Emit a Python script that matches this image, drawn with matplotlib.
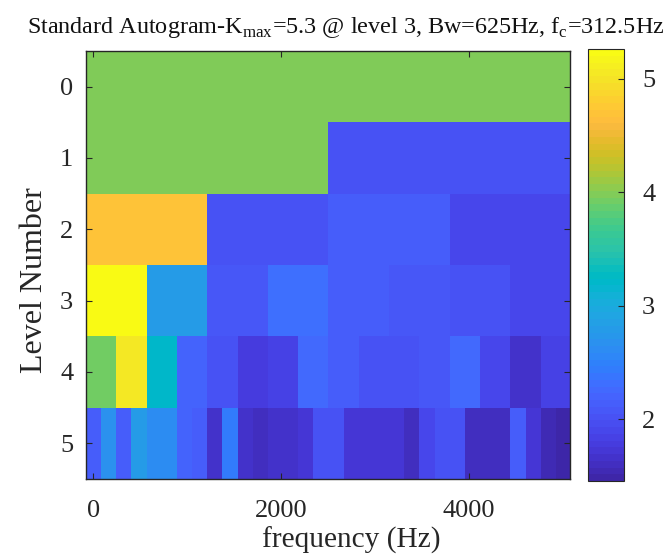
import numpy as np
import matplotlib.pyplot as plt
from matplotlib.colors import ListedColormap

# parula (64 entries)
parula = ListedColormap([
    [0.2422, 0.1504, 0.6603], [0.2504, 0.1650, 0.7076], [0.2578, 0.1818, 0.7511], [0.2647, 0.1978, 0.7952],
    [0.2706, 0.2147, 0.8364], [0.2751, 0.2342, 0.8710], [0.2783, 0.2559, 0.8991], [0.2803, 0.2782, 0.9221],
    [0.2813, 0.3006, 0.9414], [0.2810, 0.3228, 0.9579], [0.2795, 0.3447, 0.9717], [0.2760, 0.3667, 0.9829],
    [0.2699, 0.3892, 0.9906], [0.2602, 0.4123, 0.9952], [0.2440, 0.4358, 0.9988], [0.2206, 0.4603, 0.9973],
    [0.1963, 0.4847, 0.9892], [0.1834, 0.5074, 0.9798], [0.1786, 0.5289, 0.9682], [0.1764, 0.5499, 0.9520],
    [0.1687, 0.5703, 0.9359], [0.1540, 0.5902, 0.9218], [0.1460, 0.6091, 0.9079], [0.1380, 0.6276, 0.8973],
    [0.1248, 0.6459, 0.8883], [0.1113, 0.6635, 0.8763], [0.0952, 0.6798, 0.8598], [0.0689, 0.6948, 0.8394],
    [0.0297, 0.7082, 0.8163], [0.0036, 0.7203, 0.7917], [0.0067, 0.7312, 0.7660], [0.0433, 0.7411, 0.7394],
    [0.0964, 0.7500, 0.7120], [0.1408, 0.7584, 0.6842], [0.1717, 0.7670, 0.6554], [0.1938, 0.7758, 0.6251],
    [0.2161, 0.7843, 0.5923], [0.2470, 0.7918, 0.5567], [0.2906, 0.7973, 0.5188], [0.3406, 0.8008, 0.4789],
    [0.3909, 0.8029, 0.4354], [0.4456, 0.8024, 0.3909], [0.5044, 0.7993, 0.3480], [0.5616, 0.7942, 0.3045],
    [0.6174, 0.7876, 0.2612], [0.6720, 0.7793, 0.2227], [0.7242, 0.7698, 0.1910], [0.7738, 0.7598, 0.1646],
    [0.8203, 0.7498, 0.1535], [0.8634, 0.7406, 0.1596], [0.9035, 0.7330, 0.1774], [0.9393, 0.7288, 0.2100],
    [0.9728, 0.7298, 0.2394], [0.9956, 0.7434, 0.2371], [0.9970, 0.7659, 0.2199], [0.9952, 0.7893, 0.2028],
    [0.9892, 0.8136, 0.1885], [0.9786, 0.8386, 0.1766], [0.9676, 0.8639, 0.1643], [0.9610, 0.8890, 0.1537],
    [0.9597, 0.9135, 0.1423], [0.9628, 0.9373, 0.1265], [0.9691, 0.9606, 0.1064], [0.9769, 0.9839, 0.0805],
], name='parula')

# kurtosis per level (level k has 2**k bands)
level0 = [4.00]
level1 = [4.00, 2.03]
level2 = [4.70, 2.00, 2.16, 1.88]
level3 = [5.26, 2.80, 2.10, 2.30, 2.12, 2.06, 2.00, 1.88]
level4 = [3.95, 5.08, 3.20, 2.18, 2.00, 1.76, 1.85, 2.24,
          2.15, 2.00, 2.02, 2.05, 2.28, 1.90, 1.68, 1.86]
level5 = [2.12, 2.65, 2.12, 2.78, 2.60, 2.60, 2.22, 2.15,
          1.66, 2.42, 1.68, 1.62, 1.68, 1.68, 1.70, 2.00,
          2.00, 1.70, 1.70, 1.72, 1.72, 1.58, 1.90, 2.00,
          2.00, 1.62, 1.58, 1.58, 2.15, 1.70, 1.52, 1.455]
levels = [level0, level1, level2, level3, level4, level5]

fs = 10000
ncol = 32
freq = np.linspace(0, fs / 2, ncol)
lev = np.arange(len(levels))

# expand every level to 32 columns
K = np.array([np.repeat(l, ncol // len(l)) for l in levels])

plt.rcParams['font.family'] = 'Liberation Serif'
plt.rcParams['mathtext.fontset'] = 'custom'
plt.rcParams['mathtext.rm'] = 'Liberation Serif'

W, H = 670, 557
fig = plt.figure(figsize=(W / 100, H / 100), dpi=100)
ax = fig.add_axes([85.7 / W, 1 - 479 / H, (570 - 85.7) / W, (479 - 51) / H])
df = freq[1] - freq[0]
im = ax.imshow(K, cmap=parula, aspect='auto', interpolation='nearest',
               extent=[freq[0] - df / 2, freq[-1] + df / 2, lev[-1] + 0.5, lev[0] - 0.5])

ax.set_xticks([0, 2000, 4000])
ax.set_yticks(lev)
ax.tick_params(direction='in', length=4, labelsize=19, top=True, right=True, colors='#262626')
ax.tick_params(axis='x', pad=15)
ax.tick_params(axis='y', pad=9)
for s in ax.spines.values():
    s.set_color('#262626')
    s.set_linewidth(1.0)

ax.set_xlabel('frequency (Hz)', fontsize=21.2, color='#262626')
ax.xaxis.set_label_coords((351 - 85.7) / (570 - 85.7), -(540 - 479) / (479 - 51))
ax.xaxis.label.set_va('center')
ax.set_ylabel('Level Number', fontsize=23, color='#262626')
ax.yaxis.set_label_coords(-(85.7 - 35) / (570 - 85.7), (479 - 280) / (479 - 51))
ax.yaxis.label.set_va('center')

cax = fig.add_axes([588 / W, 1 - 481 / H, 36 / W, (481 - 49) / H])
cb = fig.colorbar(im, cax=cax, ticks=[2, 3, 4, 5])
cb.ax.tick_params(direction='in', length=4, labelsize=19, colors='#262626', pad=13)
cb.outline.set_edgecolor('#262626')

fig.text(346 / W, 1 - 27 / H,
         r'Standard Autogram-K$_{\rm max}$=5.3 @ level 3, Bw=625Hz, f$_{\rm c}$=312.5Hz',
         ha='center', va='center', fontsize=17.4, color='#111111')

fig.savefig('out.png', dpi=100)
